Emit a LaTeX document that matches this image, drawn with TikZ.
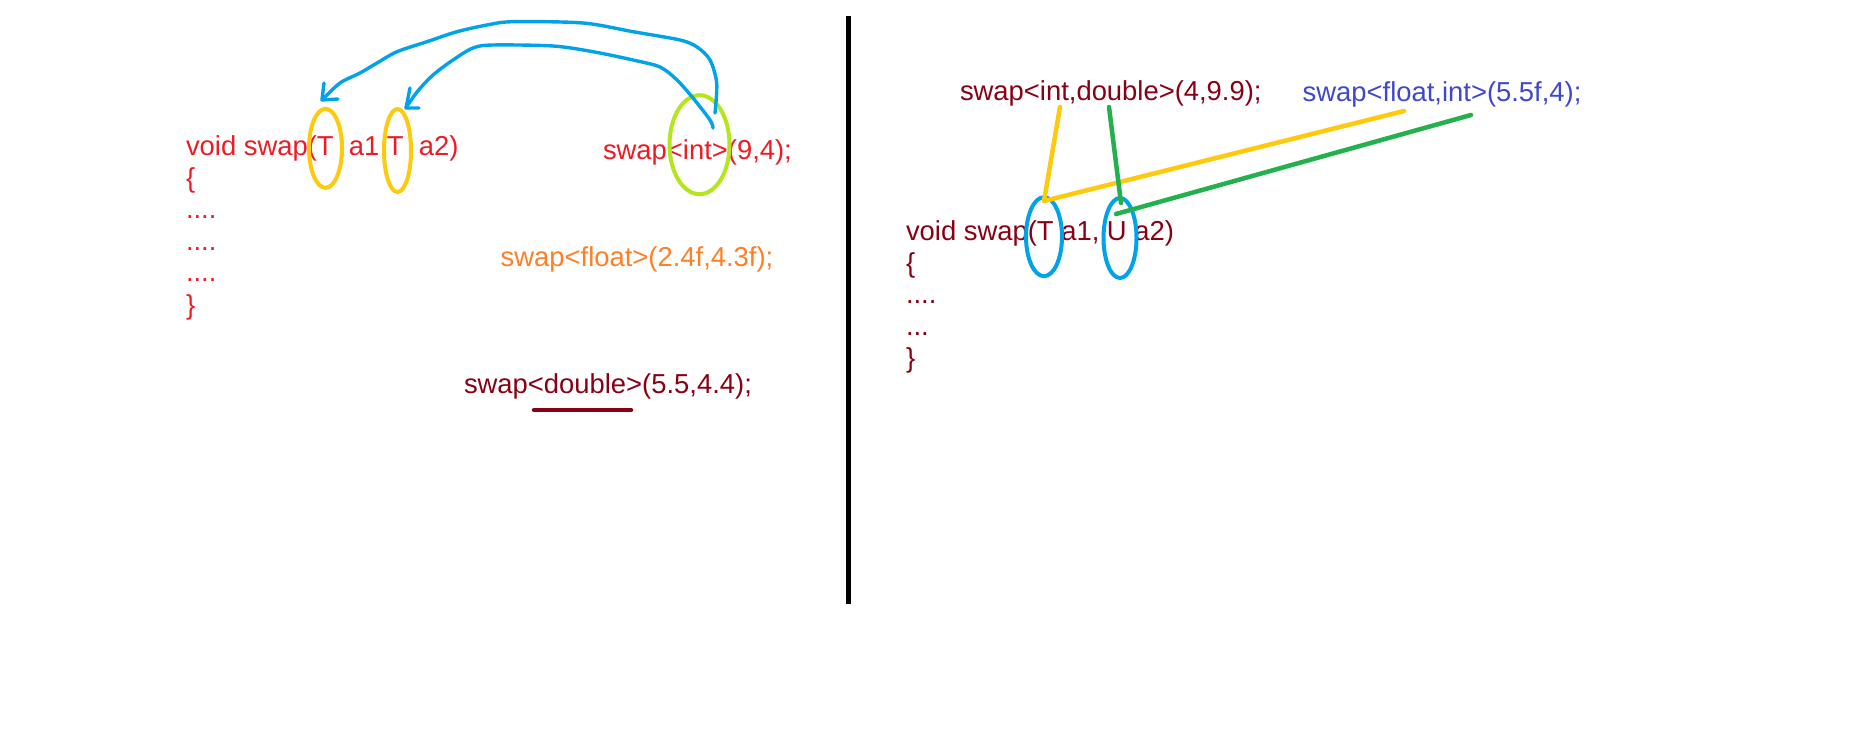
\documentclass[tikz,border=0pt]{standalone}
\usepackage{fontspec}
\setmainfont{Liberation Sans}
\usetikzlibrary{shapes.geometric}
\definecolor{pred}{HTML}{ED1C24}
\definecolor{porange}{HTML}{FF7F27}
\definecolor{pdkred}{HTML}{880015}
\definecolor{pindigo}{HTML}{3F48CC}
\definecolor{pyellow}{HTML}{FFC90E}
\definecolor{plime}{HTML}{B5E61D}
\definecolor{pgreen}{HTML}{22B14C}
\definecolor{pblue}{HTML}{00A2E8}
\begin{document}
\begin{tikzpicture}[x=1pt,y=-1pt,
  txt/.style={anchor=base west, inner sep=0pt, outer sep=0pt, font=\fontsize{27.4}{31.6}\selectfont},
  ring/.style={draw=#1, ellipse, line width=4pt, inner sep=0pt, outer sep=0pt},
  pen/.style={draw=#1, line width=4.5pt, line cap=round, line join=round},
  bluepen/.style={draw=pblue, line width=3.4pt, line cap=round, line join=round}]
\useasboundingbox[fill=white] (0,0) rectangle (1852,743);

% left code
\node[txt, text=pred] (l0) at (186,156) {void swap(T\ \ a1 T\ \ a2)};
\node[txt, text=pred] (l1) at (186,187.5) {\{};
\node[txt, text=pred] (l2) at (186,219) {....};
\node[txt, text=pred] (l3) at (186,250.7) {....};
\node[txt, text=pred] (l4) at (186,282) {....};
\node[txt, text=pred] (l5) at (186,314) {\}};

\node[txt, text=pred] (cint) at (603,160) {swap<int>(9,4);};
\node[txt, text=porange] (cfloat) at (500.7,267) {swap<float>(2.4f,4.3f);};
\node[txt, text=pdkred] (cdouble) at (464,393) {swap<double>(5.5,4.4);};

% ellipses left
\node[ring=pyellow, minimum width=33pt, minimum height=79pt] (yt1) at (325.5,148.3) {};
\node[ring=pyellow, minimum width=27pt, minimum height=83pt] (yt2) at (397.5,150.5) {};
\node[ring=plime, minimum width=60pt, minimum height=99pt] (gint) at (699.5,144.7) {};

% underline
\coordinate (ul1) at (534,410);
\coordinate (ul2) at (631,410);
\draw[pen=pdkred] (ul1) -- (ul2);

% blue arrows
\coordinate (a1s) at (715,113);
\coordinate (a1t) at (322,100);
\coordinate (a2s) at (713,128);
\coordinate (a2t) at (406,108);
\draw[bluepen] plot[smooth, tension=0.5] coordinates {(a1s) (716.7,83) (710,60) (697,47) (680,40) (633,31.7) (583,23) (513,21.7) (487,25) (457,31.7) (427,41.7) (397,51.7) (377,63) (360,73) (340,83) (a1t)};
\draw[bluepen] (324,83) -- (a1t) -- (338,99);
\draw[bluepen] plot[smooth, tension=0.5] coordinates {(a2s) (710,120) (693,98) (677,80) (660,67) (633,60) (593,51.7) (553,46) (493,45) (473,48) (453,60) (433,75) (417,92) (a2t)};
\draw[bluepen] (410,88) -- (a2t) -- (419,108);

% divider
\coordinate (dv1) at (848.5,16);
\coordinate (dv2) at (848.5,604);
\draw[line width=5pt] (dv1) -- (dv2);

% right side
\node[txt, text=pdkred] (cid) at (960,100.7) {swap<int,double>(4,9.9);};
\node[txt, text=pindigo] (cfi) at (1302.7,101.7) {swap<float,int>(5.5f,4);};

\node[txt, text=pdkred] (r0) at (906,241) {void swap(T a1, U a2)};
\node[txt, text=pdkred] (r1) at (906,272.5) {\{};
\node[txt, text=pdkred] (r2) at (906,304) {....};
\node[txt, text=pdkred] (r3) at (906,335.5) {...};
\node[txt, text=pdkred] (r4) at (906,367) {\}};

\node[ring=pblue, minimum width=36pt, minimum height=79pt] (bt) at (1044,236.7) {};
\node[ring=pblue, minimum width=33pt, minimum height=80pt] (bu) at (1120,238) {};

\coordinate (ya) at (1060,107);
\coordinate (yb) at (1044,201);
\coordinate (yc) at (1404,111);
\draw[pen=pyellow] (ya) -- (yb) -- (yc);

\coordinate (ga) at (1109,107);
\coordinate (gb) at (1121,203);
\coordinate (gc) at (1116,214);
\coordinate (gd) at (1471,115);
\draw[pen=pgreen] (ga) -- (gb);
\draw[pen=pgreen] (gc) -- (gd);
\end{tikzpicture}
\end{document}
